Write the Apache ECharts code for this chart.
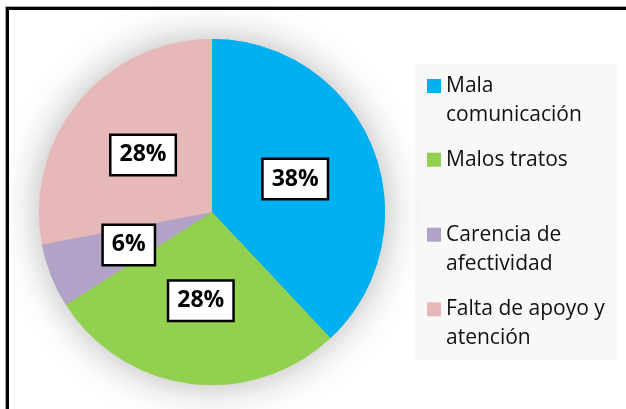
<!DOCTYPE html>
<html>
<head>
<meta charset="utf-8">
<script src="https://cdn.jsdelivr.net/npm/echarts@6/dist/echarts.min.js"></script>
<style>
  html, body { margin: 0; padding: 0; background: #fff; }
  #wrap { position: relative; width: 626px; height: 409px; overflow: hidden; }
  #frame { position: absolute; left: 6px; top: 7px; width: 700px; height: 500px;
           border: 3px solid #000; box-shadow: 0 0 0 1px #aaa; }
  #chart { position: absolute; left: 0; top: 0; width: 626px; height: 409px; }
</style>
</head>
<body>
<div id="wrap">
  <div id="frame"></div>
  <div id="chart"></div>
</div>
<script>
// datos del grafico
var categories = ['Mala comunicación', 'Malos tratos', 'Carencia de afectividad', 'Falta de apoyo y atención'];
var legendLabels = ['Mala\ncomunicación', 'Malos tratos', 'Carencia de\nafectividad', 'Falta de apoyo y\natención'];
var values = [38, 28, 6, 28];
var colors = ['#00B0F0', '#92D050', '#B3A2C7', '#E6B9B8'];

var myChart = echarts.init(document.getElementById('chart'));

var pieData = categories.map(function (name, i) {
  return { name: name, value: values[i], itemStyle: { color: colors[i] } };
});

// one legend per item; two-line labels get an empty first line so the
// square lines up with the first line of text
var legendCenters = [86, 159.7, 234.7, 309.3];
var legends = categories.map(function (name, i) {
  var twoLines = legendLabels[i].indexOf('\n') >= 0;
  return {
    left: 427,
    top: legendCenters[i] - (twoLines ? 43.5 : 14.5),
    orient: 'vertical',
    padding: 0,
    itemWidth: 14,
    itemHeight: 14,
    itemGap: 0,
    icon: 'rect',
    selectedMode: false,
    data: [name],
    formatter: function (n) {
      var t = legendLabels[categories.indexOf(n)];
      return t.indexOf('\n') >= 0 ? ' \n' + t : t;
    },
    textStyle: {
      fontFamily: 'Open Sans',
      fontSize: 21,
      lineHeight: 29,
      color: '#111'
    }
  };
});

var option = {
  animation: false,
  graphic: [{
    type: 'rect',
    z: -1,
    shape: { x: 415, y: 64, width: 202, height: 296 },
    style: { fill: '#f8f8f8' }
  }],
  legend: legends,
  series: [{
    // sombra del pastel
    type: 'pie',
    z: 1,
    silent: true,
    center: [212, 212],
    radius: 173,
    startAngle: 90,
    label: { show: false },
    labelLine: { show: false },
    itemStyle: { shadowBlur: 40, shadowColor: 'rgba(0,0,0,0.3)' },
    data: pieData
  }, {
    type: 'pie',
    z: 2,
    center: [212, 212],
    radius: 173,
    startAngle: 90,
    emphasis: { disabled: true },
    itemStyle: { borderWidth: 0 },
    label: {
      show: true,
      position: 'inside',
      formatter: '{c}%',
      fontFamily: 'Open Sans',
      fontWeight: 'bold',
      fontSize: 23,
      lineHeight: 28,
      color: '#000',
      backgroundColor: '#fff',
      borderColor: '#000',
      borderWidth: 2.5,
      padding: [6, 8, 4, 8]
    },
    labelLine: { show: false },
    data: pieData
  }]
};

myChart.setOption(option);
</script>
</body>
</html>
